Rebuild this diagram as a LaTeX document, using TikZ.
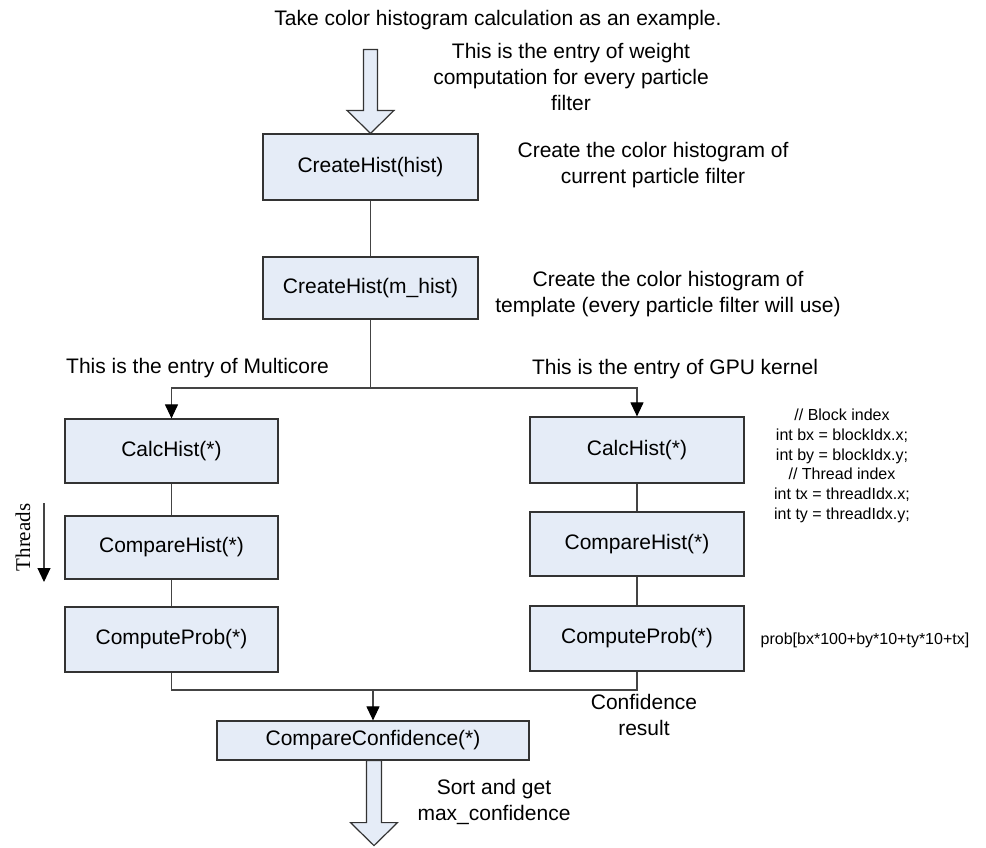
\documentclass[tikz,border=0pt]{standalone}
\usepackage{fontspec}
\setmainfont{Liberation Sans}
\newfontfamily\serifT{Liberation Serif}
\usetikzlibrary{arrows.meta,calc}
\definecolor{boxfill}{HTML}{E5ECF7}
\definecolor{edgec}{HTML}{333333}
\definecolor{linec}{HTML}{444444}
\begin{document}
\begin{tikzpicture}[x=1pt,y=-1pt,
  box/.style={draw=edgec, line width=1.2pt, fill=boxfill, inner sep=0pt,
              font=\fontsize{21}{26}\selectfont},
  lbl/.style={align=center, inner sep=0pt, font=\fontsize{21}{26}\selectfont},
  code/.style={align=center, inner sep=0pt, font=\fontsize{16}{19.7}\selectfont},
  conn/.style={draw=linec, line width=1.1pt},
  arr/.style={conn, -{Triangle[width=13pt,length=14pt,color=black]}},
  hollow/.style={draw=edgec, line width=1.2pt, fill=boxfill, line join=miter}]
\useasboundingbox (0,0) rectangle (986,847);

% boxes
\node[box, minimum width=215pt, minimum height=66pt] (h1) at (370.5,167) {CreateHist(hist)};
\node[box, minimum width=215pt, minimum height=62pt] (h2) at (370.5,288) {CreateHist(m\_hist)};
\node[box, minimum width=213pt, minimum height=64pt] (lc1) at (171.5,451) {CalcHist(*)};
\node[box, minimum width=213pt, minimum height=63pt] (lc2) at (171.5,547.5) {CompareHist(*)};
\node[box, minimum width=213pt, minimum height=65pt] (lc3) at (171.5,639.5) {ComputeProb(*)};
\node[box, minimum width=214pt, minimum height=66pt] (rc1) at (637,450) {CalcHist(*)};
\node[box, minimum width=214pt, minimum height=64pt] (rc2) at (637,544) {CompareHist(*)};
\node[box, minimum width=214pt, minimum height=65pt] (rc3) at (637,638.5) {ComputeProb(*)};
\node[box, minimum width=312pt, minimum height=39pt] (cc) at (373,740.5) {CompareConfidence(*)};

% labels
\node[lbl] (ttop) at (498,20) {Take color histogram calculation as an example.};
\node[lbl] (tentry) at (571,77) {This is the entry of weight\\computation for every particle\\filter};
\node[lbl] (tcur) at (653,165) {Create the color histogram of\\current particle filter};
\node[lbl] (ttpl) at (668,294) {Create the color histogram of\\template (every particle filter will use)};
\node[lbl] (tmc) at (197.5,368) {This is the entry of Multicore};
\node[lbl] (tgpu) at (675,369) {This is the entry of GPU kernel};
\node[code] (tcode) at (842,466) {// Block index\\int bx = blockIdx.x;\\int by = blockIdx.y;\\// Thread index\\int tx = threadIdx.x;\\int ty = threadIdx.y;};
\node[code] (tprob) at (865,640) {prob[bx*100+by*10+ty*10+tx]};
\node[lbl] (tconf) at (644,715) {Confidence\\result};
\node[lbl] (tsort) at (494,802) {Sort and get\\max\_confidence};
\node[rotate=90, inner sep=0pt, font=\serifT\fontsize{21}{21}\selectfont] (thr) at (23,537.5) {Threads};

% connectors
\draw[conn] (h1) -- (h2);
\coordinate (split) at (370.5,388);
\draw[conn] (h2.south) -- (split);
\draw[arr] (split) -| (lc1.north);
\draw[arr] (split) -| (rc1.north);
\draw[conn] (lc1) -- (lc2);
\draw[conn] (lc2) -- (lc3);
\draw[conn] (rc1) -- (rc2);
\draw[conn] (rc2) -- (rc3);
\coordinate (join) at (373,690);
\draw[conn] (lc3.south) |- (join);
\draw[conn] (rc3.south) |- (join);
\draw[arr] (join) -- (cc.north);

% threads arrow
\coordinate (tA) at (44,503);
\coordinate (tB) at (44,582);
\draw[arr] (tA) -- (tB);

% hollow arrows
\draw[hollow] (h1.north) -- ++(-23.5,-23) -- ++(16.5,0) -- ++(0,-61) -- ++(14,0)
  -- ++(0,61) -- ++(16.5,0) -- cycle;
\draw[hollow] ($(cc.south)+(-6.5,0)$) -- ++(0,62) -- ++(-16,0) -- ++(23.5,23)
  -- ++(23.5,-23) -- ++(-16,0) -- ++(0,-62) -- cycle;
\end{tikzpicture}
\end{document}
